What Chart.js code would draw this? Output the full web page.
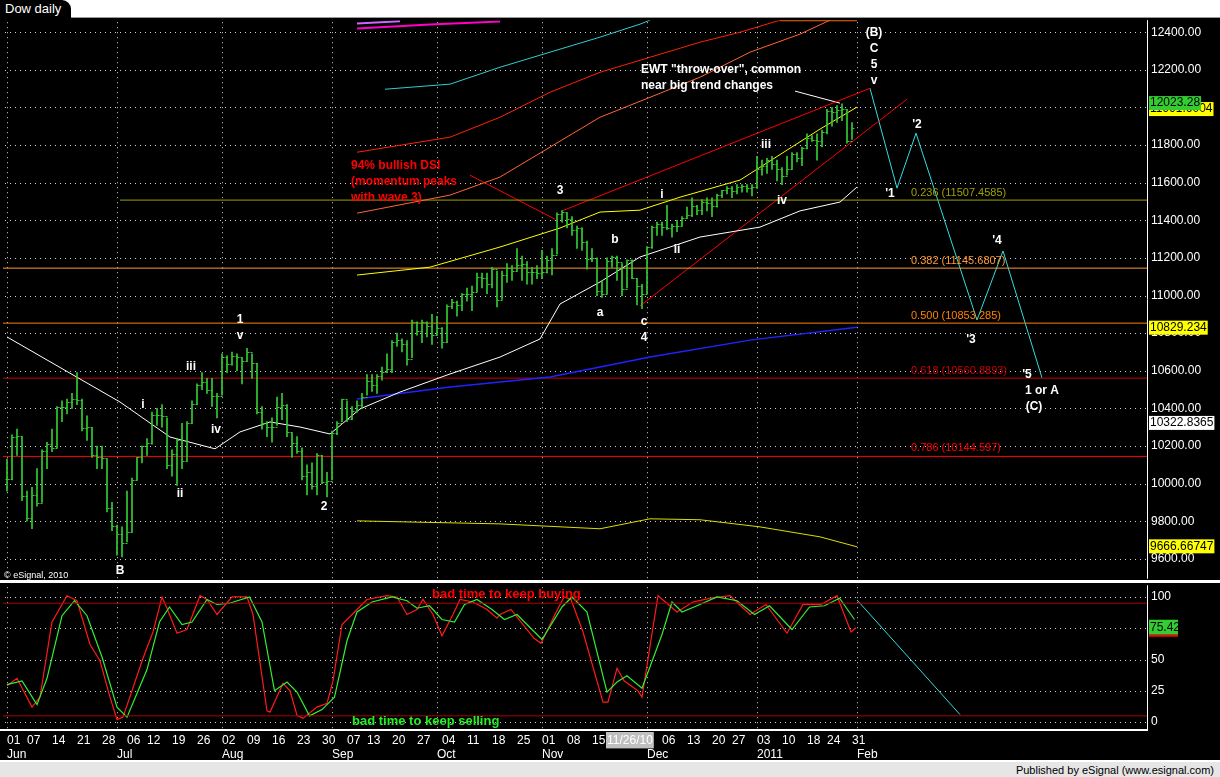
<!DOCTYPE html>
<html><head><meta charset="utf-8">
<script src="https://cdn.jsdelivr.net/npm/chart.js@4/dist/chart.umd.min.js"></script>
<style>
body{margin:0;width:1220px;height:777px;background:#000;overflow:hidden;font-family:"Liberation Sans",Arial,sans-serif;position:relative}
#top{position:absolute;left:0;top:0;width:1220px;height:17px;background:#fff;border-bottom:1px solid #999}
#tab{position:absolute;left:0;top:0;width:66px;height:18px;background:#000;color:#fff;font-size:13px;line-height:18px;padding-left:5px;border-top-right-radius:9px}
#sep{position:absolute;left:0;top:580px;width:1220px;height:3px;background:#fff}
#foot{position:absolute;left:0;top:760px;width:1220px;height:17px;background:#e6e6e6;border-top:2px solid #fff;font-size:11px;color:#000;text-align:right;line-height:17px}
#foot span{padding-right:6px}
#c1{position:absolute;left:0;top:9px}
#c2{position:absolute;left:0;top:574px}
</style></head><body>
<div id="top"></div><div id="tab">Dow daily</div>
<div id="sep"></div>
<canvas id="c1" width="1220" height="581"></canvas>
<canvas id="c2" width="1220" height="186"></canvas>
<div id="foot"><span>Published by eSignal (www.esignal.com)</span></div>
<script>
// ---- daily DJIA data, Jun 2010 - Jan 2011 (trading-day index 0..169)
const junC=[10025,10249,10255,9932,9816,9940,9899,10172,10211,10190,10405,10409,10434,10450,10443,10294,10299,10152,10144,10138,9870,9774];
const junH=[10130,10260,10290,10250,9960,9980,10080,10180,10220,10290,10410,10440,10450,10480,10590,10450,10360,10300,10200,10200,10130,9900];
const junL=[9960,10020,10150,9910,9800,9760,9880,9900,10080,10170,10190,10330,10370,10400,10420,10280,10230,10140,10080,10080,9850,9750];
const julC=[9732,9686,9744,10018,10139,10198,10216,10364,10367,10359,10098,10155,10230,10120,10322,10425,10525,10538,10498,10468,10466];
const julH=[9780,9770,9960,10030,10140,10200,10240,10380,10400,10420,10350,10180,10240,10320,10330,10440,10530,10590,10560,10560,10480];
const julL=[9620,9610,9690,9740,10020,10110,10150,10210,10310,10300,10080,10040,9990,10080,10120,10320,10420,10500,10480,10410,10350];
const augC=[10674,10636,10680,10675,10654,10698,10644,10379,10320,10303,10302,10406,10416,10272,10214,10174,10041,10060,9986,10150,10010,10015];
const augH=[10690,10680,10700,10690,10670,10720,10690,10640,10410,10330,10350,10460,10480,10420,10270,10250,10190,10100,10110,10160,10150,10060];
const augL=[10470,10590,10630,10600,10530,10650,10560,10370,10290,10250,10220,10310,10340,10250,10140,10160,10020,9940,9970,9940,10000,9930];
const sepC=[10270,10320,10448,10341,10388,10416,10462,10544,10527,10573,10595,10608,10754,10762,10740,10662,10860,10812,10858,10836,10788];
const sepH=[10280,10330,10450,10440,10410,10440,10480,10580,10580,10580,10620,10690,10760,10800,10770,10760,10870,10860,10870,10860,10900];
const sepL=[10020,10260,10330,10330,10340,10380,10400,10470,10490,10480,10550,10590,10590,10730,10700,10630,10670,10790,10750,10780,10740];
const octC=[10830,10752,10944,10967,10948,11006,11010,11021,11097,11095,11063,11143,10979,11108,11146,11133,11164,11170,11127,11127,11118];
const octH=[10890,10830,10950,10980,10970,11010,11040,11050,11120,11120,11120,11150,11130,11130,11170,11160,11250,11210,11180,11150,11160];
const octL=[10790,10720,10750,10930,10890,10920,10970,10920,11020,11040,11010,11040,10940,10980,11070,11080,11130,11080,11060,11060,11090];
const novC=[11125,11189,11216,11434,11445,11407,11347,11357,11284,11193,11202,11024,11008,11182,11204,11179,11037,11187,11092,11052,11006];
const novH=[11240,11210,11250,11440,11452,11440,11420,11370,11360,11290,11250,11200,11080,11200,11210,11210,11170,11190,11190,11090,11060];
const novL=[11090,11120,11110,11220,11390,11360,11320,11250,11240,11140,11180,11000,10990,11010,11150,11080,11000,11040,11090,10950,10930];
const decC=[11256,11362,11382,11362,11359,11372,11370,11410,11428,11476,11457,11499,11492,11478,11534,11559,11573,11555,11575,11585,11570,11578];
const decH=[11260,11370,11390,11390,11480,11380,11400,11420,11470,11520,11480,11510,11520,11520,11540,11560,11580,11580,11590,11590,11590,11590];
const decL=[11010,11250,11320,11320,11350,11310,11340,11370,11410,11420,11430,11430,11450,11420,11470,11520,11540,11520,11540,11550,11550,11530];
const janC=[11671,11691,11722,11697,11675,11638,11672,11755,11732,11787,11837,11825,11823,11872,11980,11978,11985,11990,11824,11892];
const janH=[11740,11720,11730,11740,11720,11680,11740,11760,11760,11790,11860,11850,11860,11880,11990,12000,12010,12020,11990,11920];
const janL=[11570,11640,11650,11670,11610,11590,11640,11670,11710,11690,11780,11820,11720,11790,11860,11900,11920,11930,11810,11830];

// overlay lines: [trading-day index, value]
const ma50=[[0,10780],[22.6,10434],[32.6,10248],[41.6,10185],[46.6,10275],[52.6,10328],[58.6,10301],[64.6,10264],[70.6,10397],[78.6,10487],[88.6,10583],[98.6,10673],[106.6,10769],[110.6,10955],[118.6,11072],[126.6,11205],[138.6,11311],[150.6,11364],[158.6,11450],[166.6,11497],[170,11577]];
const yellowUp=[[70,11109],[84.6,11151],[98.6,11258],[110.6,11359],[118.6,11444],[126.6,11454],[134.6,11523],[146.6,11614],[162.6,11885],[170,12002]];
const yellowLo=[[70,9802],[98.6,9786],[118.6,9760],[128.6,9813],[138.6,9808],[150.6,9770],[162.6,9717],[170,9664]];
const blueLine=[[70,10450],[88.6,10514],[108.6,10567],[128.6,10673],[148.6,10763],[170,10832]];
const orangeBand=[[70,11438],[88.6,11534],[98.6,11630],[108.6,11789],[118.6,11948],[128.6,12054],[138.6,12161],[148.6,12294],[158.6,12390],[164.6,12464]];
const redBand=[[70,11762],[88.6,11842],[98.6,11948],[108.6,12081],[118.6,12187],[128.6,12267],[138.6,12347],[146.6,12400],[154.6,12464]];
const cyanBand=[[75.6,12097],[88.6,12124],[98.6,12214],[108.6,12294],[118.6,12374],[126.6,12443],[128.6,12464]];
const magentaBand=[[70,12420],[84.6,12441],[98.6,12457]];
const purpleBand=[[70,12447],[78.6,12458]];
const topOrange=[[154.6,12464],[170,12464]];
const chanUpper=[[111,11450],[172.6,12102]];
const chanLower=[[126.6,10945],[180,12044]];
const dsiArrow=[[92.6,11640],[109.6,11406]];
const throwLine=[[157.6,12087],[166.6,12023]];
const projection=[[172.6,12102],[178,11571],[181.8,11863],[194,10870],[199.2,11237],[207,10562]];
// fibonacci retracements
const fibRatios=["0.236","0.382","0.500","0.618","0.786"];
const fibValues=[11507.4585,11145.6807,10853.285,10560.8893,10144.597];
const fibStart=[22.6,-0.8,-0.8,-0.8,-0.8];
const fibColors=["#a0a000","#ff9933","#ff8000","#cc0000","#ff0000"];
// stochastic
const stochK=[[0,29],[2,35],[5,12],[6.6,20],[9,80],[12,101],[14,97],[16.6,62],[18.6,49],[20.6,20],[22,2],[23.2,4],[27.2,51],[29.2,72],[31,100],[32,91],[34,71],[36,74],[38.6,101],[40,98],[42,86],[45,100],[48,100],[49.2,86],[52,9],[52.6,8],[55.2,31],[56.6,25],[58,5.5],[59.2,3],[62,12],[64,15],[65.2,33],[67,78],[70,90],[72,98],[76,101],[78,100],[80,86],[82,90],[83.2,98],[85.2,86],[87,69],[89.2,86],[90.6,98],[93.2,96],[96,90],[98,83],[98.6,86],[100.8,90],[105.4,67],[106.8,63],[109.6,86],[111.4,100],[112.8,98],[115.2,72],[119.2,16],[120.2,16],[122,43],[123.4,33],[126.2,25],[127,20],[130.2,101],[134,88],[137.2,96],[140.8,99],[144.6,101],[148.6,86],[151.8,94],[156,71],[159.2,94],[162.8,94],[166,101],[168.8,72],[169.8,75.4]];
const stochD=[[0,30],[3,33],[6,14],[8,35],[11,85],[13.5,97],[16,85],[19,52],[22,12],[24,4],[28,42],[30.5,80],[32.5,92],[35,78],[37,80],[40,98],[42,94],[44.5,95],[48.5,100],[51,80],[53.5,25],[56,32],[58,24],[60.5,5],[63,10],[65.5,20],[68,65],[70,88],[73,96],[77,100],[80,97],[82,91],[84.5,93],[87,82],[89.5,80],[91.5,94],[94,98],[97,90],[99.5,82],[102,86],[107,66],[111,92],[113,100],[116,88],[120,24],[122,32],[124,37],[127,27],[131,70],[133,96],[135,88],[138,93],[142,100],[146,97],[149.5,86],[152.5,93],[157,74],[160.5,92],[163.5,93],[166.5,99],[169.5,82]];
const stochProj=[[170,97.6],[190.6,6]];
const stochBands=[95,5];
// axis ticks
const priceTicks=[9600,9800,10000,10200,10400,10600,10800,11000,11200,11400,11600,11800,12000,12200,12400];
const stochTicks=[0,25,50,75,100];
const dayTickIdx=[0,4,9,14,19,24,28,33,38,43,48,53,58,63,68,72,77,82,87,92,97,102,107,112,117,120,131,136,141,145,150,155,160,164,169];
const dayTickLbl=["01","07","14","21","28","06","12","19","26","02","09","16","23","30","07","13","20","27","04","11","18","25","01","08","15","11/26/10","06","13","20","27","03","10","18","24","31"];
const monthIdx=[0,22,43,65,86,107,128,150,170];
const monthLbl=["Jun","Jul","Aug","Sep","Oct","Nov","Dec","2011","Feb"];
// text notes [index, value, text]
const waveNotes=[[22.6,9536,"B"],[27.2,10418,"i"],[34.6,9945,"ii"],[36.8,10620,"iii"],[41.8,10285,"iv"],[46.6,10870,"1"],[46.6,10785,"v"],[63.4,9876,"2"],[110.6,11560,"3"],[118.6,10907,"a"],[121.6,11295,"b"],[127.4,10859,"c"],[127.4,10774,"4"],[131,11534,"i"],[134,11242,"ii"],[151.8,11800,"iii"],[155,11502,"iv"],[173.4,12400,"(B)"],[173.4,12315,"C"],[173.4,12230,"5"],[173.4,12145,"v"],[176.6,11539,"'1"],[182,11906,"'2"],[192.8,10764,"'3"],[198,11290,"'4"],[204,10578,"'5"],[207,10493,"1 or A"],[205.4,10408,"(C)"]];
const dsiNote=["94% bullish DSI","(momentum peaks","with wave 3)"];
const ewtNote=['EWT "throw-over", common','near big trend changes'];
const priceTags=[[11991.6004,"11991.6004","#ffff00"],[12023.28,"12023.28","#33cc33"],[10829.234,"10829.234","#ffff00"],[10322.8365,"10322.8365","#ffffff"],[9666.66747,"9666.66747","#ffff00"]];

const closes=[].concat(junC,julC,augC,sepC,octC,novC,decC,janC);
const highs=[].concat(junH,julH,augH,sepH,octH,novH,decH,janH);
const lows=[].concat(junL,julL,augL,sepL,octL,novL,decL,janL);
const pts=a=>a.map(p=>({x:p[0],y:p[1]}));
const F='"Liberation Sans",Arial,sans-serif';
const XMIN=-0.8,XMAX=228;
const NOGRID={display:false,drawTicks:false};
const ln=(data,color,w=1)=>({type:'line',data:pts(data),borderColor:color,borderWidth:w,pointRadius:0,tension:0,order:2});

// dotted grid drawn from the scales' tick values
const dotGrid=(yt)=>({id:'dotgrid',beforeDatasetsDraw(ch){const c=ch.ctx,a=ch.chartArea,x=ch.scales.x,y=ch.scales.y;c.save();c.fillStyle='#d0d0d0';
  monthIdx.forEach(m=>{const px=Math.round(x.getPixelForValue(m));if(px<a.left||px>a.right)return;for(let py=a.top+2;py<a.bottom;py+=5)c.fillRect(px,py,1,1);});
  yt.forEach(v=>{const py=Math.round(y.getPixelForValue(v));for(let px=a.left+2;px<a.right;px+=5)c.fillRect(px,py,1,1);});c.restore();}});
const frame={id:'frame',afterDraw(ch){const c=ch.ctx,a=ch.chartArea;c.save();c.strokeStyle='#fff';c.lineWidth=1;
  c.beginPath();c.moveTo(Math.round(a.right)+0.5,a.top);c.lineTo(Math.round(a.right)+0.5,a.bottom+(ch.canvas.id==='c2'?2:0));c.stroke();c.restore();}};

const ds=[];
ds.push(ln(topOrange,'#ff6600',2),ln(purpleBand,'#cc66ff',2),ln(magentaBand,'#ff00cc',2),ln(cyanBand,'#33cccc'),ln(redBand,'#ff2200'),ln(orangeBand,'#ff6633'),
 ln(yellowUp,'#ffff00'),ln(yellowLo,'#dddd00'),ln(ma50,'#ffffff'),ln(blueLine,'#2222ff',1.5));
fibValues.forEach((v,i)=>ds.push(ln([[fibStart[i],v],[XMAX,v]],fibColors[i])));
ds.push(ln(chanUpper,'#ff0000'),ln(chanLower,'#ff0000'),ln(dsiArrow,'#ff0000'),ln(throwLine,'#ffffff'),ln(projection,'#33dddd'));
ds.push({type:'bar',data:closes.map((c,i)=>({x:i,y:[lows[i],highs[i]]})),backgroundColor:'#33cc33',borderWidth:0,barThickness:1,order:1});

const ohlcTicks={id:'ohlc',afterDatasetsDraw(ch){
  const c=ch.ctx,x=ch.scales.x,y=ch.scales.y;c.save();c.strokeStyle='#33cc33';c.lineWidth=1;
  closes.forEach((cl,i)=>{const px=Math.round(x.getPixelForValue(i))+0.5,op=i?closes[i-1]:cl;
    c.beginPath();c.moveTo(px-2,Math.round(y.getPixelForValue(op))+0.5);c.lineTo(px,Math.round(y.getPixelForValue(op))+0.5);
    c.moveTo(px,Math.round(y.getPixelForValue(cl))+0.5);c.lineTo(px+2,Math.round(y.getPixelForValue(cl))+0.5);c.stroke();});
  c.restore();}};
const notes={id:'notes',afterDraw(ch){
  const c=ch.ctx,x=ch.scales.x,y=ch.scales.y;c.save();c.textBaseline='middle';
  c.font='bold 12px '+F;c.fillStyle='#fff';c.textAlign='center';
  waveNotes.forEach(n=>c.fillText(n[2],x.getPixelForValue(n[0]),y.getPixelForValue(n[1])));
  c.textAlign='left';c.fillStyle='#ff0000';
  [11693,11603,11518].forEach((v,i)=>c.fillText(dsiNote[i],x.getPixelForValue(68.8),y.getPixelForValue(v)));
  c.fillStyle='#fff';
  [12203,12118].forEach((v,i)=>c.fillText(ewtNote[i],x.getPixelForValue(126.8),y.getPixelForValue(v)));
  c.font='11px '+F;
  const fy=[11545,11183,10891,10599,10190];
  fibValues.forEach((v,i)=>{c.fillStyle=fibColors[i];c.fillText(fibRatios[i]+' ('+v+')',x.getPixelForValue(180.8),y.getPixelForValue(fy[i]));});
  c.fillStyle='#fff';c.font='9px '+F;c.fillText('© eSignal, 2010',4,ch.chartArea.bottom-3);
  c.font='12px '+F;
  priceTags.forEach(t=>{const py=y.getPixelForValue(t[0]);const w=c.measureText(t[1]).width;
    c.fillStyle=t[2];c.fillRect(ch.chartArea.right+2,py-7,w+2,14);c.fillStyle='#000';c.fillText(t[1],ch.chartArea.right+3,py);});
  c.restore();}};

new Chart(document.getElementById('c1'),{type:'bar',data:{datasets:ds},plugins:[dotGrid(priceTicks),ohlcTicks,notes,frame],
 options:{animation:false,responsive:false,events:[],layout:{padding:{left:3,top:0,bottom:3,right:0}},
  plugins:{legend:{display:false},tooltip:{enabled:false}},
  scales:{
   x:{type:'linear',min:XMIN,max:XMAX,offset:false,ticks:{display:false},border:{display:false},grid:NOGRID},
   y:{position:'right',min:9494,max:12464,afterBuildTicks:s=>{s.ticks=priceTicks.map(v=>({value:v}))},afterFit:s=>{s.width=73},
      border:{display:false},grid:NOGRID,
      ticks:{color:'#fff',font:{family:F,size:12},padding:4,callback:v=>v.toFixed(2)}}}}});

// ---- stochastic panel
const sTicks=[];dayTickIdx.forEach((v,i)=>sTicks.push({value:v,day:dayTickLbl[i]}));
monthIdx.forEach((v,i)=>{const t=sTicks.find(k=>k.value===v);if(t)t.month=monthLbl[i];else sTicks.push({value:v,day:'',month:monthLbl[i]});});
sTicks.sort((a,b)=>a.value-b.value);
const sds=[ln([[XMIN,stochBands[0]],[XMAX,stochBands[0]]],'#b00000'),ln([[XMIN,stochBands[1]],[XMAX,stochBands[1]]],'#b00000'),
 ln(stochD,'#33ee33',1.2),ln(stochK,'#ff1a1a',1.2),ln(stochProj,'#33dddd')];
const sNotes={id:'snotes',afterDraw(ch){const c=ch.ctx,x=ch.scales.x,y=ch.scales.y,a=ch.chartArea;c.save();c.textBaseline='middle';c.textAlign='left';
  c.fillStyle='#fff';c.fillRect(a.left-3,a.bottom,a.right-a.left+3,2);
  c.font='bold 13px '+F;c.fillStyle='#ff0000';c.fillText('bad time to keep buying',x.getPixelForValue(85),y.getPixelForValue(102));
  c.fillStyle='#22ee22';c.fillText('bad time to keep selling',x.getPixelForValue(69),y.getPixelForValue(0.5));
  c.font='12px '+F;const py=y.getPixelForValue(75.42);c.fillStyle='#33cc33';c.fillRect(a.right+2,py-8,29,15);
  c.fillStyle='#ff0000';c.fillRect(a.right+2,py+7,29,2);c.fillStyle='#000';c.fillText('75.42',a.right+3,py);c.restore();}};
new Chart(document.getElementById('c2'),{type:'line',data:{datasets:sds},plugins:[dotGrid(stochTicks),sNotes,frame],
 options:{animation:false,responsive:false,events:[],layout:{padding:{left:3,top:2,bottom:0,right:0}},
  plugins:{legend:{display:false},tooltip:{enabled:false}},
  scales:{
   x:{type:'linear',min:XMIN,max:XMAX,afterBuildTicks:s=>{s.ticks=sTicks.map(t=>({value:t.value}))},afterFit:s=>{s.height=31},
      border:{display:false},grid:NOGRID,
      ticks:{autoSkip:false,maxRotation:0,align:'start',padding:4,color:'#fff',font:{family:F,size:12},
        showLabelBackdrop:c=>c.index!==undefined&&sTicks[c.index]&&sTicks[c.index].day==='11/26/10',backdropColor:'#c0c0c0',backdropPadding:1,
        callback:(v,i)=>{const t=sTicks[i];return t.month?[t.day,t.month]:t.day;}}},
   y:{position:'right',min:-5.5,max:109.4,afterBuildTicks:s=>{s.ticks=stochTicks.map(v=>({value:v}))},afterFit:s=>{s.width=73},
      border:{display:false},grid:NOGRID,
      ticks:{color:'#fff',font:{family:F,size:12},padding:4}}}}});
</script></body></html>
